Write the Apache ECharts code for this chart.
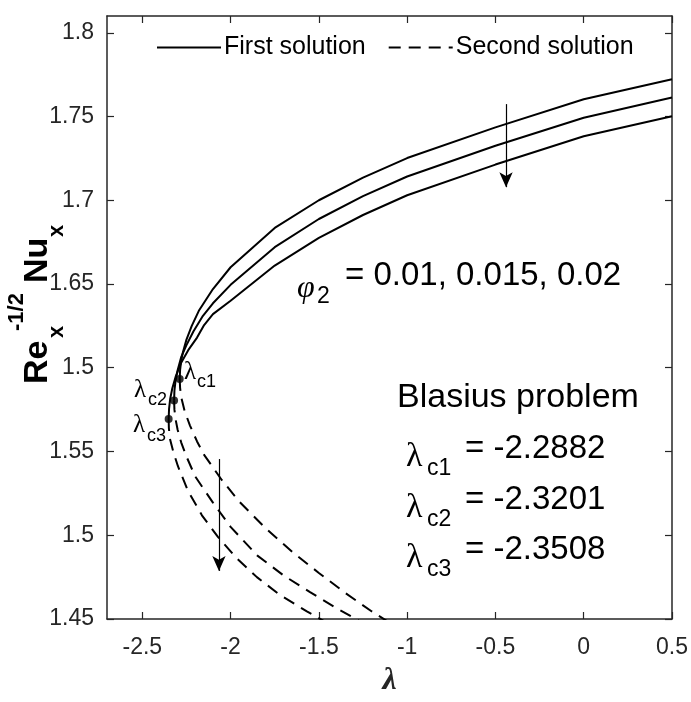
<!DOCTYPE html>
<html>
<head>
<meta charset="utf-8">
<script src="https://cdn.jsdelivr.net/npm/echarts@6/dist/echarts.min.js"></script>
<style>
html,body{margin:0;padding:0;background:#fff;}
#chart{width:691px;height:702px;}
</style>
</head>
<body>
<div id="chart"></div>
<script>
// ---------- data ----------
const lambdaTicks = [-2.5, -2, -1.5, -1, -0.5, 0, 0.5];
const nuTicks = [1.45, 1.5, 1.55, 1.6, 1.65, 1.7, 1.75, 1.8];
const nuTickLabels = ['1.45', '1.5', '1.55', '1.5', '1.65', '1.7', '1.75', '1.8'];

const phi2 = [0.01, 0.015, 0.02];
const lambdaC = [-2.2882, -2.3201, -2.3508];
const nuC = [1.5933, 1.5805, 1.5694];

// first (upper) solutions, [lambda, Re^-1/2 Nu]
const first001 = [[-2.2882,1.5933],[-2.286,1.5988],[-2.28,1.6040],[-2.27,1.6093],[-2.25,1.6168],[-2.22,1.6250],[-2.18,1.6340],[-2.1,1.6470],[-2.0,1.6600],[-1.75,1.6835],[-1.5,1.7000],[-1.25,1.7135],[-1.0,1.7252],[-0.5,1.7435],[0,1.7603],[0.5,1.7722]];
const first0015 = [[-2.3201,1.5805],[-2.318,1.5865],[-2.312,1.5920],[-2.30,1.5985],[-2.28,1.6063],[-2.25,1.6135],[-2.21,1.6218],[-2.16,1.6305],[-2.1,1.6385],[-2.0,1.6495],[-1.75,1.6720],[-1.5,1.6888],[-1.25,1.7025],[-1.0,1.7142],[-0.5,1.7325],[0,1.7493],[0.5,1.7613]];
const first002 = [[-2.3508,1.5694],[-2.3485,1.5755],[-2.342,1.5815],[-2.33,1.5878],[-2.31,1.5950],[-2.28,1.6030],[-2.24,1.6105],[-2.19,1.6180],[-2.15,1.6255],[-2.1,1.6320],[-2.0,1.6400],[-1.75,1.6610],[-1.5,1.6775],[-1.25,1.6912],[-1.0,1.7030],[-0.5,1.7213],[0,1.7382],[0.5,1.7502]];

// second (lower) solutions
const second001 = [[-2.2882,1.5933],[-2.286,1.5880],[-2.28,1.5825],[-2.26,1.5740],[-2.23,1.5655],[-2.19,1.5560],[-2.15,1.5480],[-2.05,1.5330],[-1.95,1.5200],[-1.8,1.5040],[-1.65,1.4900],[-1.5,1.4775],[-1.35,1.4655],[-1.2,1.4545],[-1.05,1.4445]];
const second0015 = [[-2.3201,1.5805],[-2.318,1.5750],[-2.312,1.5695],[-2.30,1.5630],[-2.28,1.5555],[-2.25,1.5470],[-2.2,1.5350],[-2.1,1.5195],[-2.0,1.5050],[-1.85,1.4880],[-1.7,1.4760],[-1.55,1.4660],[-1.4,1.4565],[-1.25,1.4475],[-1.1,1.4390]];
const second002 = [[-2.3508,1.5694],[-2.3495,1.5640],[-2.3435,1.5576],[-2.325,1.5500],[-2.2982,1.5412],[-2.2416,1.5266],[-2.1624,1.5119],[-2.0718,1.4990],[-1.9643,1.4861],[-1.8511,1.4750],[-1.7209,1.4644],[-1.5681,1.4545],[-1.45,1.4475]];

// arrows: [lambda, from, to]
const arrowUpper = [-0.44, 1.7574, 1.7078];
const arrowLower = [-2.066, 1.5455, 1.4787];

const axisLimits = { xmin: -2.7, xmax: 0.5, ymin: 1.45, ymax: 1.81 };

// ---------- chart ----------
const SANS = "'Liberation Sans', Arial, Helvetica, sans-serif";
const SERIF = "'Liberation Serif', 'Times New Roman', serif";
const AX = '#262626';

const chart = echarts.init(document.getElementById('chart'), null, { renderer: 'canvas' });

function lineSeries(name, data, dashed) {
  return {
    name: name, type: 'line', data: data, symbol: 'none', showSymbol: false, smooth: false, clip: true,
    lineStyle: { color: '#000', width: 2, type: dashed ? [12, 8] : 'solid' },
    itemStyle: { color: '#000' }, silent: true, z: 3
  };
}
function arrowSeries(a) {
  return {
    type: 'line', data: [], silent: true,
    markLine: {
      silent: true, symbol: ['none', 'arrow'], symbolSize: [10, 15], precision: 4,
      label: { show: false },
      lineStyle: { color: '#000', width: 1.2, type: 'solid' },
      emphasis: { disabled: true },
      data: [[{ coord: [a[0], a[1]] }, { coord: [a[0], a[2]] }]]
    }
  };
}
function yLabel(v) {
  for (let i = 0; i < nuTicks.length; i++) if (Math.abs(nuTicks[i] - v) < 1e-6) return nuTickLabels[i];
  return '';
}
function txt(text, x, y, size, opts) {
  opts = opts || {};
  return {
    type: 'text', x: x, y: y, silent: true,
    style: {
      text: text, fill: opts.fill || '#000',
      font: (opts.style || 'normal') + ' ' + (opts.weight || 'normal') + ' ' + size + 'px ' + (opts.family || SANS),
      textAlign: opts.align || 'left', align: opts.align || 'left',
      textVerticalAlign: 'middle', verticalAlign: 'middle'
    }
  };
}

const option = {
  animation: false,
  backgroundColor: '#fff',
  grid: { left: 107, right: 19, top: 16, bottom: 71, containLabel: false },
  legend: {
    data: [
      { name: 'First solution', itemStyle: { opacity: 0 } },
      { name: 'Second solution', itemStyle: { opacity: 0 } }
    ],
    left: 151, top: 30, itemWidth: 64, itemHeight: 14, itemGap: 22,
    itemStyle: { opacity: 0 },
    textStyle: { fontFamily: SANS, fontSize: 25, color: '#000', padding: [0, 0, 0, -2] },
    selectedMode: false
  },
  xAxis: [{
    type: 'value', min: axisLimits.xmin, max: axisLimits.xmax, position: 'bottom',
    name: 'λ', nameLocation: 'middle', nameGap: 46,
    nameTextStyle: { fontFamily: SERIF, fontStyle: 'italic', fontWeight: 'bold', fontSize: 32, color: AX },
    axisLine: { show: true, onZero: false, lineStyle: { color: AX, width: 1.5 } },
    axisTick: { show: true, inside: true, length: 7, customValues: lambdaTicks, lineStyle: { color: AX, width: 1.2 } },
    axisLabel: { show: true, customValues: lambdaTicks, margin: 17, fontFamily: SANS, fontSize: 23, color: AX,
      formatter: v => String(v) },
    splitLine: { show: false }
  }, {
    type: 'value', min: axisLimits.xmin, max: axisLimits.xmax, position: 'top',
    axisLine: { show: true, onZero: false, lineStyle: { color: AX, width: 1.5 } },
    axisTick: { show: true, inside: true, length: 7, customValues: lambdaTicks, lineStyle: { color: AX, width: 1.2 } },
    axisLabel: { show: false }, splitLine: { show: false }
  }],
  yAxis: [{
    type: 'value', min: axisLimits.ymin, max: axisLimits.ymax, position: 'left',
    axisLine: { show: true, onZero: false, lineStyle: { color: AX, width: 1.5 } },
    axisTick: { show: true, inside: true, length: 7, customValues: nuTicks, lineStyle: { color: AX, width: 1.2 } },
    axisLabel: { show: true, customValues: nuTicks, margin: 13, fontFamily: SANS, fontSize: 23, color: AX, formatter: yLabel },
    splitLine: { show: false }
  }, {
    type: 'value', min: axisLimits.ymin, max: axisLimits.ymax, position: 'right',
    axisLine: { show: true, onZero: false, lineStyle: { color: AX, width: 1.5 } },
    axisTick: { show: true, inside: true, length: 7, customValues: nuTicks, lineStyle: { color: AX, width: 1.2 } },
    axisLabel: { show: false }, splitLine: { show: false }
  }],
  series: [
    lineSeries('First solution', first001, false),
    lineSeries('First solution', first0015, false),
    lineSeries('First solution', first002, false),
    lineSeries('Second solution', second001, true),
    lineSeries('Second solution', second0015, true),
    lineSeries('Second solution', second002, true),
    {
      type: 'scatter', silent: true, symbol: 'circle', symbolSize: 8, z: 5,
      itemStyle: { color: '#000' },
      data: lambdaC.map((l, i) => [l, nuC[i]])
    },
    arrowSeries(arrowUpper),
    arrowSeries(arrowLower)
  ],
  graphic: [
    {
      type: 'group', x: 50, y: 384, rotation: Math.PI / 2, silent: true,
      children: [
        txt('Re', 0, -12, 34, { weight: 'bold' }),
        txt('x', 46, 7, 22, { weight: 'bold' }),
        txt('-1/2', 53, -33, 22, { weight: 'bold' }),
        txt('Nu', 101, -12, 34, { weight: 'bold' }),
        txt('x', 147, 7, 22, { weight: 'bold' })
      ]
    },
    txt('φ', 297, 289, 32, { family: SERIF, style: 'italic' }),
    txt('2', 317, 297, 23),
    txt('= ' + phi2.join(', '), 345, 276, 33),
    txt('λ', 184, 372, 25, { family: SERIF }),
    txt('c1', 197, 382, 18),
    txt('λ', 134, 390, 25, { family: SERIF }),
    txt('c2', 148, 400, 18),
    txt('λ', 133, 425, 25, { family: SERIF }),
    txt('c3', 147, 436, 18),
    txt('Blasius problem', 397, 398, 34),
    txt('λ', 406, 457, 34, { family: SERIF }),
    txt('c1', 427, 469, 23),
    txt('= ' + lambdaC[0].toFixed(4), 465, 449, 33),
    txt('λ', 406, 508, 34, { family: SERIF }),
    txt('c2', 427, 520, 23),
    txt('= ' + lambdaC[1].toFixed(4), 465, 500, 33),
    txt('λ', 406, 558, 34, { family: SERIF }),
    txt('c3', 427, 570, 23),
    txt('= ' + lambdaC[2].toFixed(4), 465, 550, 33)
  ]
};
chart.setOption(option);
</script>
</body>
</html>
